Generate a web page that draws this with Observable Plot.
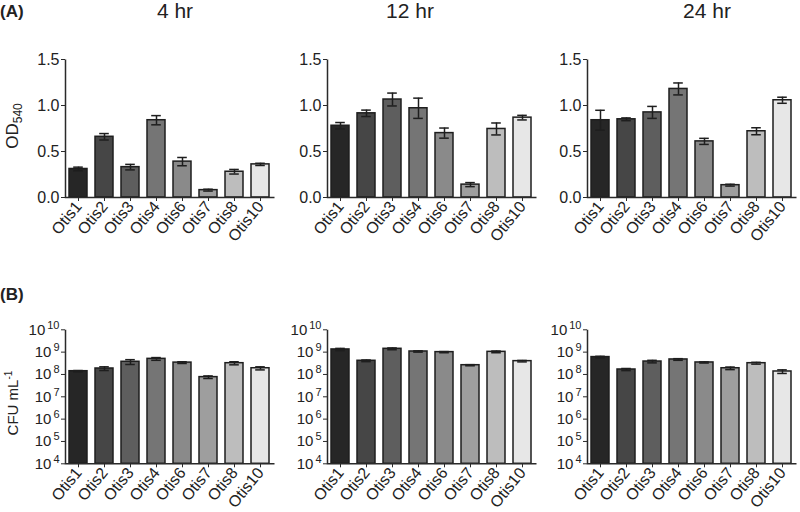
<!DOCTYPE html>
<html><head><meta charset="utf-8">
<script src="https://cdn.jsdelivr.net/npm/d3@7"></script>
<script src="https://cdn.jsdelivr.net/npm/@observablehq/plot@0.6"></script>
<style>
body{margin:0;background:#fff;}
#root{position:relative;width:800px;height:512px;overflow:hidden;font-family:"Liberation Sans",Arial,sans-serif;color:#222;}
.pan{position:absolute;}
.lbl{position:absolute;white-space:nowrap;line-height:1;}
</style></head><body><div id="root"></div>
<script>
// ---- data ----
const categories = ["Otis1","Otis2","Otis3","Otis4","Otis6","Otis7","Otis8","Otis10"];
const times = ["4 hr","12 hr","24 hr"];
const barColors = ["#262626","#464646","#5e5e5e","#757575","#8a8a8a","#9e9e9e","#bdbdbd","#e7e7e7"];

const od4     = [0.31, 0.66, 0.33, 0.84, 0.39, 0.08, 0.28, 0.36];
const od4Err  = [0.02, 0.035, 0.03, 0.05, 0.045, 0.01, 0.025, 0.012];
const od12    = [0.78, 0.915, 1.065, 0.97, 0.70, 0.14, 0.745, 0.868];
const od12Err = [0.035, 0.035, 0.07, 0.11, 0.055, 0.022, 0.065, 0.025];
const od24    = [0.84, 0.85, 0.925, 1.18, 0.61, 0.134, 0.72, 1.057];
const od24Err = [0.108, 0.015, 0.065, 0.065, 0.033, 0.01, 0.038, 0.033];

const cfu4     = [1.4e8, 1.85e8, 3.7e8, 5.0e8, 3.4e8, 7.6e7, 3.2e8, 1.9e8];
const cfu4Err  = [0.1e8, 0.35e8, 0.9e8, 0.7e8, 0.3e8, 1.0e7, 0.5e8, 0.3e8];
const cfu12    = [1.32e9, 4.1e8, 1.41e9, 1.07e9, 1.0e9, 2.6e8, 1.03e9, 3.95e8];
const cfu12Err = [0.15e9, 0.35e8, 0.13e9, 0.07e9, 0.06e9, 0.15e8, 0.09e9, 0.3e8];
const cfu24    = [6.0e8, 1.67e8, 3.8e8, 4.7e8, 3.45e8, 1.9e8, 3.2e8, 1.36e8];
const cfu24Err = [0.5e8, 0.18e8, 0.5e8, 0.4e8, 0.2e8, 0.25e8, 0.3e8, 0.25e8];

const odTicks = [0, 0.5, 1.0, 1.5];
const cfuExponents = [4, 5, 6, 7, 8, 9, 10];

// ---- layout ----
const root = document.getElementById("root");
const colFrameLeft = [65, 327, 587];
const FW = 209;
const FONT = "'Liberation Sans', Arial, sans-serif";

function makePanel(values, errors, isLog, col, row) {
  const data = categories.map((c, i) => ({name: c, v: values[i], e: errors[i], color: barColors[i]}));
  const mL = 60, mR = 3;
  const width = mL + FW + mR;
  const top = row === 0 ? 0 : 270;
  const mT = row === 0 ? 59 : 59.3;
  const frameBottom = row === 0 ? 197 : 463.3;
  const height = row === 0 ? 262 : 242;
  const mB = top + height - frameBottom;
  const h = frameBottom - top - mT;
  const base = isLog ? 1e4 : 0;
  const yScale = isLog
    ? {type: "log", domain: [1e4, 1e10]}
    : {type: "linear", domain: [0, 1.5]};
  const yTicks = isLog ? cfuExponents.map(e => 10 ** e) : odTicks;
  const yFmt = isLog ? (d => String(Math.round(Math.log10(d)))) : (d => d.toFixed(1));
  const stroke = "#1e1e1e";
  const svg = Plot.plot({
    width, height, marginLeft: mL, marginRight: mR, marginTop: mT, marginBottom: mB,
    style: {fontFamily: FONT, fontSize: "16px", background: "transparent", color: "#222", overflow: "visible"},
    x: {type: "band", domain: categories, paddingInner: 0.3, paddingOuter: 0.12},
    y: yScale,
    color: {type: "identity"},
    marks: [
      Plot.barY(data, {x: "name", y1: d => base, y2: "v", fill: "color", stroke: stroke, strokeWidth: 1.5}),
      Plot.ruleX(data, {x: "name", y1: d => d.v - d.e, y2: d => d.v + d.e, stroke: stroke, strokeWidth: 1.5}),
      Plot.tickY(data, {x: "name", y: d => d.v + d.e, insetLeft: 4.2, insetRight: 4.2, stroke: stroke, strokeWidth: 1.5}),
      Plot.tickY(data, {x: "name", y: d => d.v - d.e, insetLeft: 4.2, insetRight: 4.2, stroke: stroke, strokeWidth: 1.5}),
      Plot.frame({stroke: "#2a2a2a", strokeWidth: 1.5, strokeDasharray: `0 ${FW + h} ${FW + h + 4}`}),
      Plot.axisY({ticks: yTicks, tickFormat: yFmt, tickSize: 4, tickPadding: 2, label: null, fontSize: isLog ? 15 : 16, stroke: "#2a2a2a"}),
      Plot.axisX({tickRotate: -51, tickSize: 4, tickPadding: 2, label: null, fontSize: 16, stroke: "#2a2a2a"})
    ]
  });
  if (isLog) {
    d3.select(svg).selectAll('g[aria-label="y-axis tick label"] text').each(function () {
      const e = this.textContent;
      const t = d3.select(this);
      t.text(null);
      t.append("tspan").text("10");
      t.append("tspan").attr("dx", 2).attr("dy", "-0.55em").attr("font-size", 11).text(e);
    });
  }
  svg.classList.add("pan");
  svg.style.left = (colFrameLeft[col] - mL) + "px";
  svg.style.top = top + "px";
  root.appendChild(svg);
}

const odSets = [[od4, od4Err], [od12, od12Err], [od24, od24Err]];
const cfuSets = [[cfu4, cfu4Err], [cfu12, cfu12Err], [cfu24, cfu24Err]];
odSets.forEach(([v, e], i) => makePanel(v, e, false, i, 0));
cfuSets.forEach(([v, e], i) => makePanel(v, e, true, i, 1));

// ---- text labels ----
function label(html, x, y, css) {
  const d = document.createElement("div");
  d.className = "lbl";
  d.innerHTML = html;
  d.style.left = x + "px";
  d.style.top = y + "px";
  Object.assign(d.style, css || {});
  root.appendChild(d);
  return d;
}
const titleX = [175, 410, 707];
times.forEach((t, i) => label(t, titleX[i], 10, {fontSize: "21px", transform: "translate(-50%,-50%)"}));
label("(A)", 0, 3, {fontSize: "17px", fontWeight: "bold"});
label("(B)", 0, 286, {fontSize: "17px", fontWeight: "bold"});
label('OD<span style="font-size:12px;position:relative;top:4px">540</span>', 12, 126,
  {fontSize: "17px", transform: "translate(-50%,-50%) rotate(-90deg)"});
label('CFU mL<span style="font-size:10px;position:relative;top:-6px">-1</span>', 12, 403,
  {fontSize: "15px", transform: "translate(-50%,-50%) rotate(-90deg)"});
</script>
</body></html>
